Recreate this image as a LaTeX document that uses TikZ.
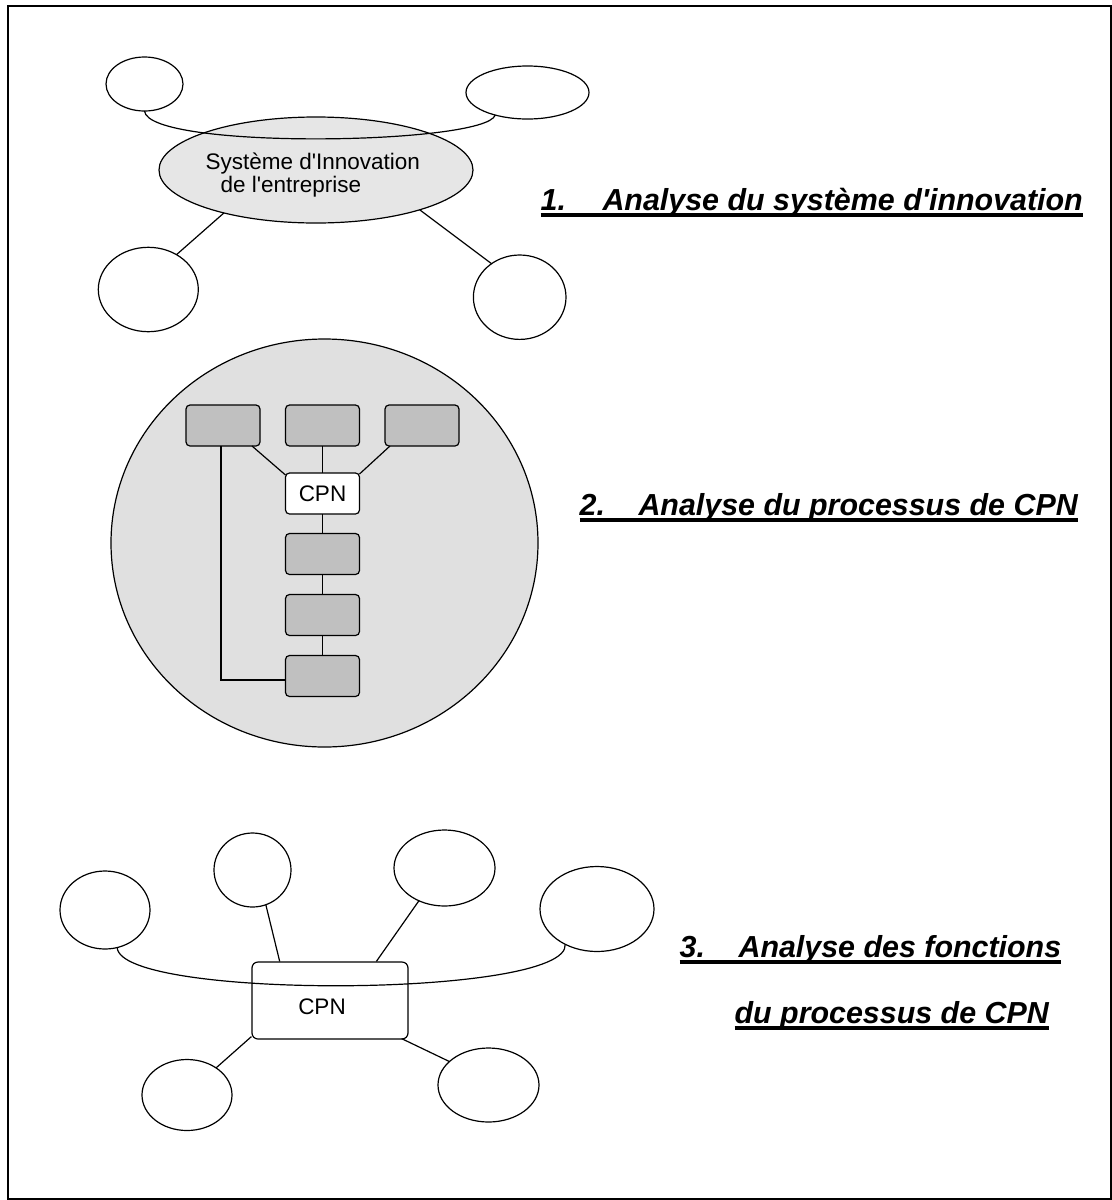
\documentclass[tikz,border=0pt]{standalone}
\usepackage{fontspec}
\setmainfont{Liberation Sans}
\usetikzlibrary{shapes.geometric,calc}
\definecolor{boxgray}{RGB}{192,192,192}
\definecolor{lightfill}{RGB}{230,230,230}
\definecolor{circfill}{RGB}{224,224,224}
\newcommand\titleul[1]{\setbox0=\hbox{#1}\rlap{\rule[-3.6pt]{\wd0}{2pt}}\box0}
\newcommand\apos{\textquotesingle}
\begin{document}
\begin{tikzpicture}[x=0.5pt,y=-0.5pt, line width=0.6pt,
  ell/.style 2 args={ellipse,draw,minimum width=#1pt,minimum height=#2pt,inner sep=0pt,outer sep=0pt},
  pbox/.style={draw,rounded corners=2pt,fill=boxgray,minimum width=37pt,minimum height=20.5pt,inner sep=0pt,outer sep=0pt},
  lbl/.style={font=\fontsize{11.25pt}{11.5pt}\selectfont,inner sep=0pt},
  ttl/.style={font=\fontsize{15.2pt}{18pt}\selectfont\bfseries\itshape,inner sep=0pt,anchor=base west}]
\useasboundingbox (0,0) rectangle (1112,1200);
\draw[line width=0.75pt] (8,6) rectangle (1111,1199);

% ---------- Section 1 ----------
\node[ell={38.5}{27}] (s1tl) at (144.5,84) {};
\node[ell={61.5}{26.5}] (s1tr) at (527.5,92.5) {};
\node[ell={157}{53},fill=lightfill] (s1c) at (316,170) {};
\node[ell={50}{42.2}] (s1bl) at (148.3,289.5) {};
\node[ell={46.3}{42.2}] (s1br) at (519.7,297.2) {};
\node[lbl,anchor=base west] (s1t1) at (205,169) {Système d\apos Innovation};
\node[lbl,anchor=base west] (s1t2) at (220,192) {de l\apos entreprise};
\draw (s1tl.south) .. controls (148,150) and (485,145) .. (s1tr.-145);
\draw (s1c.-155.7) -- (s1bl.51);
\draw (s1c.-21.2) -- (s1br.130.7);
\node[ttl] (h1) at (540,210) {\titleul{1.\hspace*{18.3pt}Analyse du système d\apos innovation}};

% ---------- Section 2 ----------
\node[ell={213.5}{204},fill=circfill] (s2c) at (324.5,543) {};
\node[pbox] (b1) at (223,425.5) {};
\node[pbox] (b2) at (322.5,425.5) {};
\node[pbox] (b3) at (422,425.5) {};
\node[pbox,fill=white,lbl,inner sep=0pt] (cpn) at (322.5,493.5) {CPN};
\node[pbox] (b4) at (322.5,554) {};
\node[pbox] (b5) at (322.5,615) {};
\node[pbox] (b6) at (322.5,676) {};
\draw ($(b1.south east)+(-8,0)$) -- ($(cpn.north west)+(0,2)$);
\draw (b2.south) -- (cpn.north);
\draw ($(b3.south west)+(5,0)$) -- ($(cpn.north east)+(0,1)$);
\draw (cpn.south) -- (b4.north);
\draw (b4.south) -- (b5.north);
\draw (b5.south) -- (b6.north);
\draw ($(b1.south west)+(35,0)$) |- ($(b6.west)+(0,4)$);
\node[ttl] (h2) at (579,515) {\titleul{2.\hspace*{16.8pt}Analyse du processus de CPN}};

% ---------- Section 3 ----------
\node[ell={45}{39}] (s3l) at (105,910) {};
\node[ell={38.5}{37}] (s3ml) at (252.5,870) {};
\node[ell={50.5}{38}] (s3mr) at (444.5,868) {};
\node[ell={57}{42.5}] (s3r) at (597,909) {};
\node[draw,rounded corners=3pt,fill=white,minimum width=78pt,minimum height=38.5pt,inner sep=0pt] (s3cpn) at (330,1000.5) {};
\node[lbl] (s3txt) at (322,1007) {CPN};
\node[ell={45}{35.5}] (s3bl) at (187,1095) {};
\node[ell={50.5}{37}] (s3br) at (488.5,1085) {};
\draw (s3l.-72) .. controls (120,1000) and (570,998) .. (s3r.-132.5);
\draw (s3ml.-69) -- ($(s3cpn.north west)!0.18!(s3cpn.north east)$);
\draw (s3mr.-128) -- ($(s3cpn.north west)!0.795!(s3cpn.north east)$);
\draw ($(s3cpn.south west)+(0,-3)$) -- (s3bl.43);
\draw ($(s3cpn.south east)+(-7,-1)$) -- (s3br.149);
\node[ttl] (h3) at (679,957) {\titleul{3.\hspace*{16.8pt}Analyse des fonctions}};
\node[ttl] (h4) at (734,1023) {\titleul{du processus de CPN}};
\end{tikzpicture}
\end{document}
